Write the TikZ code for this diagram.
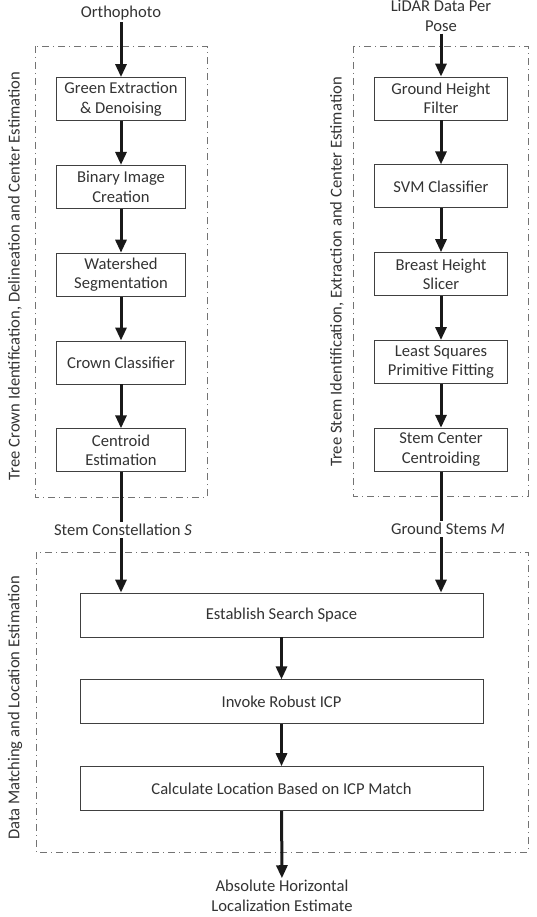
\documentclass[tikz,border=0pt]{standalone}
\usepackage{fontspec}
\setmainfont{Carlito}
\usetikzlibrary{arrows.meta,positioning}

\begin{document}
\begin{tikzpicture}[
  x=1pt, y=-1pt,
  >={Triangle[length=13pt,width=11pt]},
  node distance=44pt,
  every node/.style={font=\fontsize{16.6}{19.5}\selectfont,text=black!80},
  block/.style={draw=black!75,line width=0.8pt,minimum width=129pt,minimum height=43pt,align=center,inner sep=2pt},
  rblock/.style={block,minimum width=133pt},
  wblock/.style={block,minimum width=403pt,minimum height=44pt},
  frame/.style={draw=black!55,line width=0.8pt,dash pattern=on 7pt off 4pt on 1pt off 4pt},
  io/.style={align=center,inner sep=2pt},
  arrow/.style={->,line width=3pt,black!90},
  link/.style={line width=3pt,black!90}
]
  \useasboundingbox (0,0) rectangle (536,917);

  % group frames
  \draw[frame] (35,46) rectangle (207,497);
  \draw[frame] (353,46) rectangle (528,496);
  \draw[frame] (36,552) rectangle (528,852);

  % side labels
  \node[rotate=90] (crownlbl) at (15,276) {Tree Crown Identification, Delineation and Center Estimation};
  \node[rotate=90] (stemlbl) at (337,272) {Tree Stem Identification, Extraction and Center Estimation};
  \node[rotate=90] (matchlbl) at (15,708) {Data Matching and Location Estimation};

  % orthophoto branch
  \node[io] (ortho) at (121,13) {Orthophoto};
  \node[block] (green) at (121,99) {Green Extraction\\\& Denoising};
  \node[block,below=of green] (binary) {Binary Image\\Creation};
  \node[block,below=of binary] (watershed) {Watershed\\Segmentation};
  \node[block,below=of watershed] (crown) {Crown Classifier};
  \node[block,below=of crown] (centroid) {Centroid\\Estimation};
  \node[io] (stemS) at (123,530) {Stem Constellation \textit{S}};

  % lidar branch
  \node[io] (lidar) at (441,16) {LiDAR Data Per\\Pose};
  \node[rblock] (ground) at (441,98.5) {Ground Height\\Filter};
  \node[rblock,below=of ground] (svm) {SVM Classifier};
  \node[rblock,below=of svm] (slicer) {Breast Height\\Slicer};
  \node[rblock,below=of slicer] (lsq) {Least Squares\\Primitive Fitting};
  \node[rblock,below=of lsq] (stemcenter) {Stem Center\\Centroiding};
  \node[io] (gstems) at (448,529) {Ground Stems \textit{M}};

  % matching
  \node[wblock] (search) at (281.5,615) {Establish Search Space};
  \node[wblock,below=42pt of search] (icp) {Invoke Robust ICP};
  \node[wblock,below=42pt of icp] (locate) {Calculate Location Based on ICP Match};
  \node[io] (result) at (282,896) {Absolute Horizontal\\Localization Estimate};

  \draw[arrow] (ortho) -- (green);
  \draw[arrow] (green) -- (binary);
  \draw[arrow] (binary) -- (watershed);
  \draw[arrow] (watershed) -- (crown);
  \draw[arrow] (crown) -- (centroid);
  \draw[link] (centroid.south) -- (centroid.south |- stemS.north);
  \draw[arrow] (stemS.south -| centroid.south) -- (centroid.south |- search.north);

  \draw[arrow] (lidar) -- (ground);
  \draw[arrow] (ground) -- (svm);
  \draw[arrow] (svm) -- (slicer);
  \draw[arrow] (slicer) -- (lsq);
  \draw[arrow] (lsq) -- (stemcenter);
  \draw[link] (stemcenter.south) -- (stemcenter.south |- gstems.north);
  \draw[arrow] (stemcenter.south |- gstems.south) -- (stemcenter.south |- search.north);

  \draw[arrow] (search) -- (icp);
  \draw[arrow] (icp) -- (locate);
  \draw[arrow] (locate) -- (result);
\end{tikzpicture}
\end{document}
